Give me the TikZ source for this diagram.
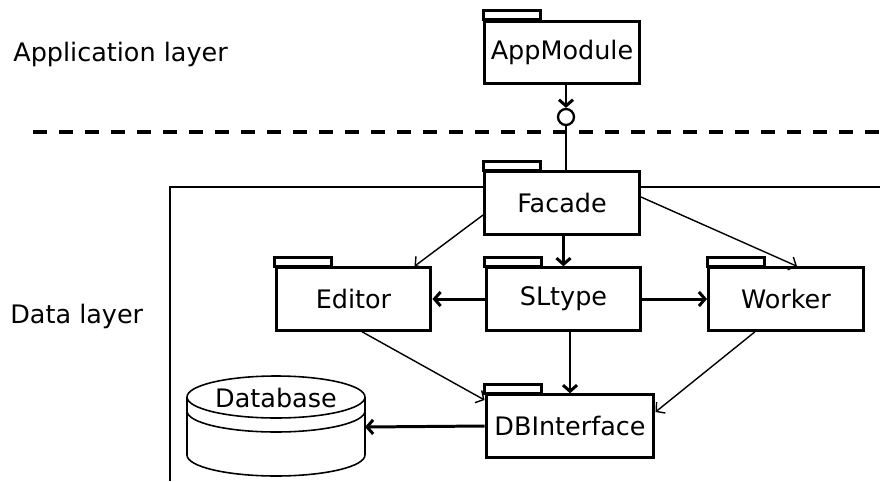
\documentclass[tikz,border=0pt]{standalone}
\usepackage{fontspec}
\setmainfont{DejaVu Sans}
\usepackage{tikz}
\usetikzlibrary{shapes,arrows.meta}

\begin{document}
\begin{tikzpicture}[x=0.02cm,y=-0.02cm,
    font=\fontsize{14.5}{17}\selectfont,
    >={Straight Barb[length=3.5pt,width=8pt]},
    pkg/.style={draw,line width=1.7pt,fill=white,minimum width=3.1cm,
        minimum height=1.25cm,inner sep=0pt},
    lnk/.style={->,line width=0.8pt},
    lnkb/.style={->,line width=1.7pt}]
    \pgfmathsetmacro{\tabw}{57}
    \pgfmathsetmacro{\tabh}{9}
    \useasboundingbox (0,0) rectangle (880,481);
    % Draw the layers
    \node [anchor=base west,inner sep=0pt] (applayer) at (13,61) {Application layer};
    \node [anchor=base west,inner sep=0pt] (datalayer) at (10,323) {Data layer};
    \draw [line width=2.5pt,dash pattern=on 7.7pt off 7.1pt] (33,132) -- (880,132);
    \draw [line width=1.5pt] (880,187) -- (170,187) -- (170,481);

    % Draw the packages
    \node [pkg] (app) at (562,52.5) {AppModule};
    \node [pkg] (facade) at (562,203) {Facade};
    \node [pkg] (editor) at (353.5,299) {Editor};
    \node [pkg] (sltype) at (563.5,299) {SLtype};
    \node [pkg] (worker) at (786,299) {Worker};
    \node [pkg,minimum width=3.36cm] (dbi) at (570,426) {DBInterface};
    \foreach \n in {app,facade,editor,sltype,worker,dbi}
        \draw [line width=1.7pt,fill=white] (\n.north west) rectangle ++(\tabw,-\tabh);

    % Draw the database
    \node [inner sep=0pt] (db) at (276,398) {Database};
    \coordinate (dbport) at (365,427);
    \draw [line width=0.9pt] (276,397) ellipse [x radius=1.78cm,y radius=0.42cm];
    \draw [line width=0.9pt] (187,411) arc [start angle=180,end angle=360,
        x radius=1.78cm,y radius=0.42cm];
    \draw [line width=0.9pt] (187,397) -- (187,455)
        arc [start angle=180,end angle=360,x radius=1.78cm,y radius=0.42cm]
        -- (365,397);

    % Draw the interface
    \node [draw,circle,line width=1.3pt,minimum size=0.32cm,inner sep=0pt] (socket) at (566,117) {};
    \draw [lnkb] (app.south -| socket) -- (socket);
    \draw [line width=1.5pt] (socket) -- (socket |- facade.north);

    % Draw the dependencies
    \draw [lnk] ([yshift=-0.24cm]facade.west) -- ([xshift=1.22cm]editor.north);
    \draw [lnk] ([yshift=0.12cm]facade.east) -- ([xshift=0.22cm]worker.north);
    \draw [lnkb] (sltype.north |- facade.south) -- (sltype.north);
    \draw [lnkb] (sltype.west) -- (editor.east);
    \draw [lnkb] (sltype.east) -- (worker.west);
    \draw [lnkb] (dbi.north |- sltype.south) -- (dbi.north);
    \draw [lnk] ([xshift=0.17cm]editor.south) -- ([yshift=0.52cm]dbi.west);
    \draw [lnk] ([xshift=-0.62cm]worker.south) -- ([yshift=0.28cm]dbi.east);
    \draw [lnkb] (dbi.west) -- (dbport);
\end{tikzpicture}
\end{document}
